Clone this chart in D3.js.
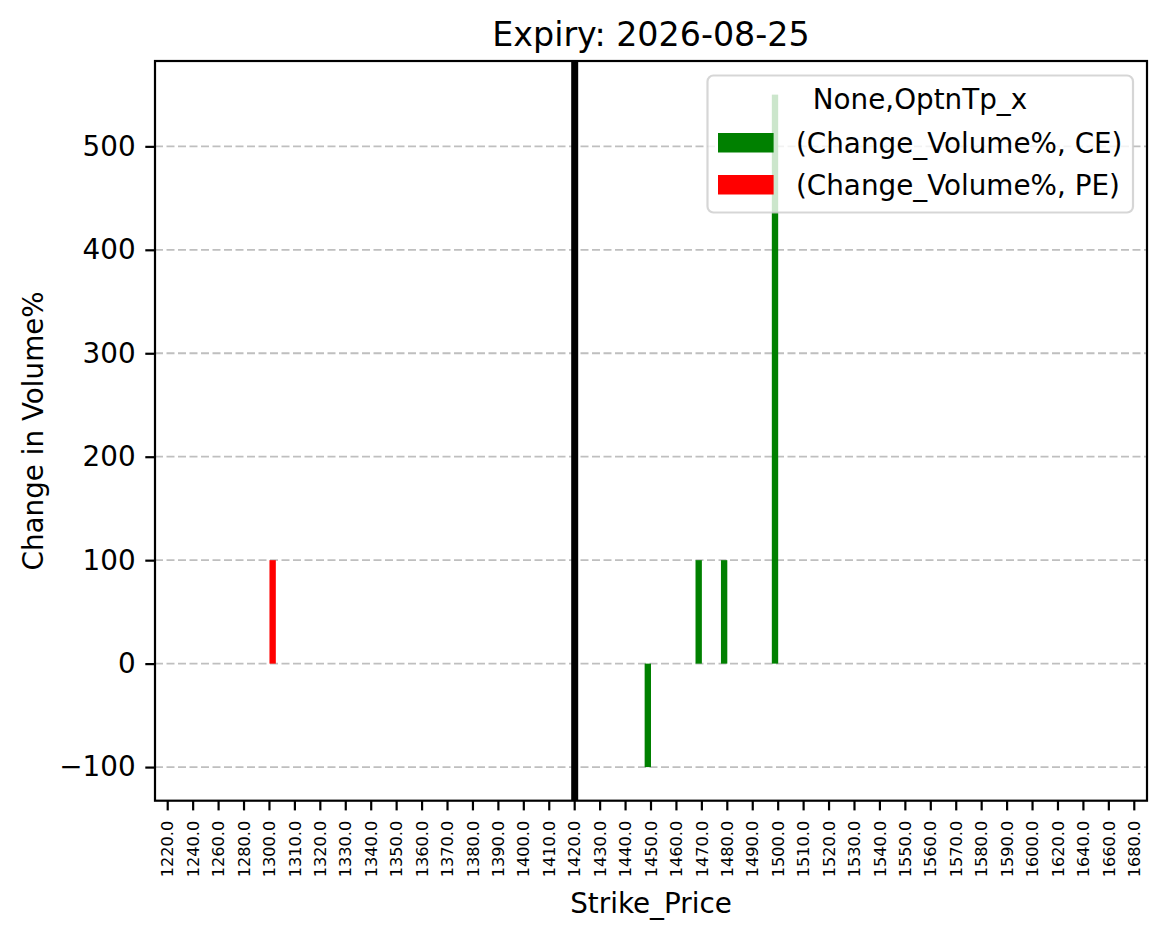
<!DOCTYPE html>
<html>
<head>
<meta charset="utf-8">
<script src="https://cdn.jsdelivr.net/npm/d3@7"></script>
<style>
  html, body { margin: 0; padding: 0; background: #fff; }
  svg { display: block; font-family: "DejaVu Sans", sans-serif; }
</style>
</head>
<body>
<svg id="chart" width="1166" height="939"></svg>
<script>
// ---- data ----
const strikes = [1220,1240,1260,1280,1300,1310,1320,1330,1340,1350,1360,1370,1380,1390,1400,1410,1420,1430,1440,1450,1460,1470,1480,1490,1500,1510,1520,1530,1540,1550,1560,1570,1580,1590,1600,1620,1640,1660,1680];
const ceValues = [null,null,null,null,null,null,null,null,null,null,null,null,null,null,null,null,null,null,null,-100,null,100,100,null,550,null,null,null,null,null,null,null,null,null,null,null,null,null,null];
const peValues = [null,null,null,null,100,null,null,null,null,null,null,null,null,null,null,null,null,null,null,null,null,null,null,null,null,null,null,null,null,null,null,null,null,null,null,null,null,null,null];
const yTicks = [-100, 0, 100, 200, 300, 400, 500];
const spotStrike = 1420;
const seriesNames = ["(Change_Volume%, CE)", "(Change_Volume%, PE)"];
const seriesColors = ["#008000", "#ff0000"];
const titleText = "Expiry: 2026-08-25";
const xLabel = "Strike_Price";
const yLabel = "Change in Volume%";
const legendTitle = "None,OptnTp_x";

// ---- layout ----
const L = 155, R = 1147, T = 61, B = 800.7;
const FS = 27.8;
const svg = d3.select("#chart");

const x = d3.scaleBand().domain(strikes).range([L, R]).paddingInner(0).paddingOuter(0);
const bw = x.bandwidth();
const y = d3.scaleLinear().domain([-132.5, 582.5]).range([B, T]);

// grid
svg.append("g").selectAll("line").data(yTicks).join("line")
  .attr("x1", L).attr("x2", R)
  .attr("y1", d => y(d)).attr("y2", d => y(d))
  .attr("stroke", "#bfbfbf").attr("stroke-width", 1.8)
  .attr("stroke-dasharray", "8,3.5");

// bars
const ceData = strikes.map((s, i) => ({s, v: ceValues[i]})).filter(d => d.v !== null);
const peData = strikes.map((s, i) => ({s, v: peValues[i]})).filter(d => d.v !== null);

svg.append("g").selectAll("rect").data(ceData).join("rect")
  .attr("x", d => x(d.s) + bw / 2 - bw * 0.25)
  .attr("width", bw * 0.25)
  .attr("y", d => Math.min(y(d.v), y(0)))
  .attr("height", d => Math.abs(y(d.v) - y(0)))
  .attr("fill", seriesColors[0]);

svg.append("g").selectAll("rect").data(peData).join("rect")
  .attr("x", d => x(d.s) + bw / 2)
  .attr("width", bw * 0.25)
  .attr("y", d => Math.min(y(d.v), y(0)))
  .attr("height", d => Math.abs(y(d.v) - y(0)))
  .attr("fill", seriesColors[1]);

// spines
svg.append("rect").attr("x", L).attr("y", T).attr("width", R - L).attr("height", B - T)
  .attr("fill", "none").attr("stroke", "#000").attr("stroke-width", 2.2);

// vertical spot line
svg.append("line")
  .attr("x1", x(spotStrike) + bw / 2).attr("x2", x(spotStrike) + bw / 2)
  .attr("y1", T).attr("y2", B)
  .attr("stroke", "#000").attr("stroke-width", 7);

// axes
const yAxis = d3.axisLeft(y).tickValues(yTicks).tickSize(9.7).tickPadding(9.7).tickFormat(d3.format("d"));
const gy = svg.append("g").attr("transform", `translate(${L},0)`).call(yAxis);
gy.select(".domain").remove();
gy.selectAll(".tick line").attr("stroke-width", 2.2);
gy.selectAll(".tick text").attr("font-size", FS).attr("font-family", "DejaVu Sans").attr("fill", "#000");

const xAxis = d3.axisBottom(x).tickSize(9.7).tickPadding(0).tickFormat(d => d.toFixed(1));
const gx = svg.append("g").attr("transform", `translate(0,${B})`).call(xAxis);
gx.select(".domain").remove();
gx.selectAll(".tick line").attr("stroke-width", 2.2);
gx.selectAll(".tick text")
  .attr("font-size", 16.2).attr("font-family", "DejaVu Sans").attr("fill", "#000")
  .attr("text-anchor", "end")
  .attr("transform", "translate(0,20) rotate(-90)")
  .attr("x", 0).attr("y", 0).attr("dy", "0.35em");

// labels
svg.append("text").attr("x", (L + R) / 2).attr("y", 46).attr("text-anchor", "middle")
  .attr("font-size", 33.3).text(titleText);
svg.append("text").attr("x", (L + R) / 2).attr("y", 913).attr("text-anchor", "middle")
  .attr("font-size", FS).text(xLabel);
svg.append("text").attr("transform", `translate(43,${(T + B) / 2}) rotate(-90)`)
  .attr("text-anchor", "middle").attr("font-size", FS).text(yLabel);

// legend
const lg = svg.append("g");
lg.append("rect").attr("x", 707.5).attr("y", 75.5).attr("width", 425.5).attr("height", 137)
  .attr("rx", 6).attr("ry", 6)
  .attr("fill", "#fff").attr("fill-opacity", 0.8)
  .attr("stroke", "#cccccc").attr("stroke-opacity", 0.8).attr("stroke-width", 2.2);
lg.append("text").attr("x", 920).attr("y", 109).attr("text-anchor", "middle")
  .attr("font-size", FS).text(legendTitle);
const rowY = [133, 175];
seriesNames.forEach((name, i) => {
  lg.append("rect").attr("x", 718).attr("y", rowY[i]).attr("width", 55.6).attr("height", 19.5)
    .attr("fill", seriesColors[i]);
  lg.append("text").attr("x", 796).attr("y", rowY[i] + 19.5).attr("font-size", FS).text(name);
});
</script>
</body>
</html>
